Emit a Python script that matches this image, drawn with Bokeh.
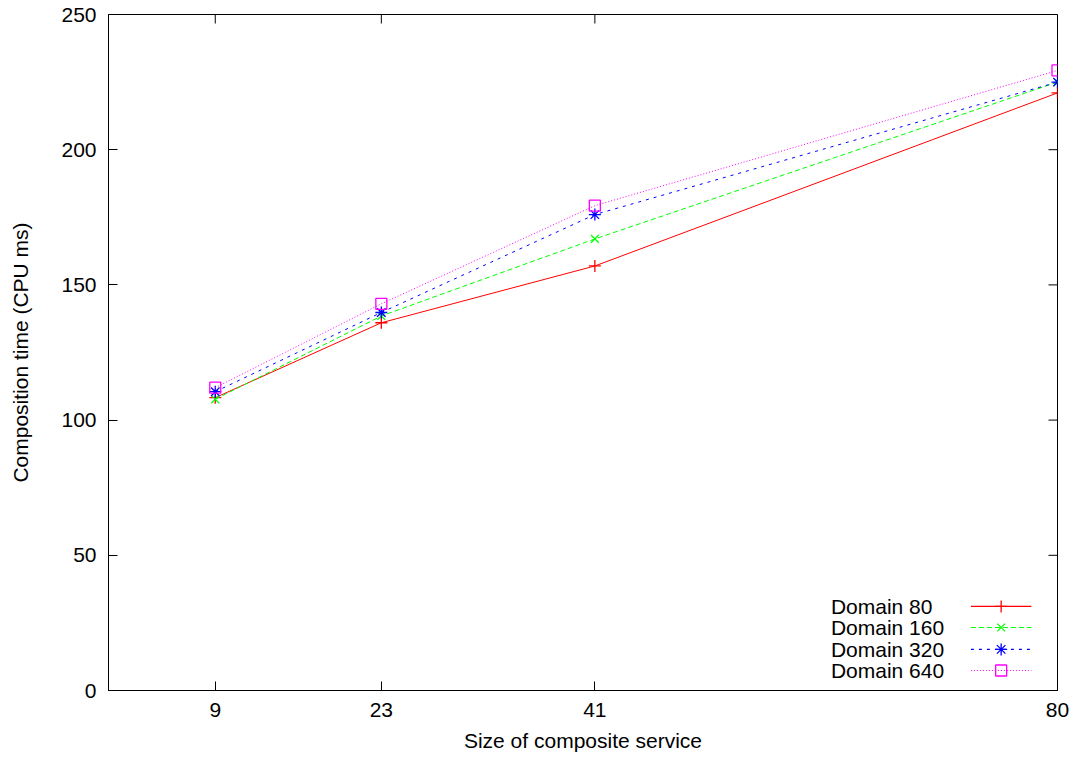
from bokeh.plotting import figure
from bokeh.models import Range1d, FixedTicker, Label
from bokeh.embed import file_html
from bokeh.resources import INLINE

# ---- data ----
sizes = [9, 23, 41, 80]
domain80 = [108.3, 136, 157, 221]
domain160 = [107.7, 138.5, 167, 225]
domain320 = [110.5, 139.8, 176, 225]
domain640 = [112, 143, 179.3, 229.3]
series_names = ["Domain 80", "Domain 160", "Domain 320", "Domain 640"]
y_ticks = [0, 50, 100, 150, 200, 250]

FONT = "Liberation Sans"
FS = "21px"

X0, X1, Y0, Y1 = 0, 80, 0, 250
W, H = 1070, 756
BL, BR, BT, BB = 108, 13, 14, 66
p = figure(width=W, height=H, output_backend="svg", toolbar_location=None,
           x_range=Range1d(X0, X1), y_range=Range1d(Y0, Y1),
           min_border_left=BL, min_border_right=BR, min_border_top=BT, min_border_bottom=BB)
p.xgrid.visible = False
p.ygrid.visible = False
p.outline_line_color = "black"
p.outline_line_width = 1
p.background_fill_color = "white"
p.border_fill_color = "white"

def style_axis(ax):
    ax.major_tick_in = 9
    ax.major_tick_out = 0
    ax.minor_tick_line_color = None
    ax.major_tick_line_color = "black"
    ax.axis_line_color = "black"
    ax.major_label_text_font = FONT
    ax.major_label_text_font_size = FS
    ax.major_label_text_color = "black"
    ax.axis_label_text_font = FONT
    ax.axis_label_text_font_size = FS
    ax.axis_label_text_font_style = "normal"
    ax.axis_label_text_color = "black"

xa = p.xaxis[0]
xa.ticker = FixedTicker(ticks=sizes)
xa.axis_label = "Size of composite service"
style_axis(xa)
xa.major_label_standoff = 12
xa.axis_label_standoff = 9

ya = p.yaxis[0]
ya.ticker = FixedTicker(ticks=y_ticks)
ya.axis_label = "Composition time (CPU ms)"
style_axis(ya)
ya.major_label_standoff = 12
ya.axis_label_standoff = 26

# mirrored inward ticks on top and right (9px long)
frame_w = W - BL - BR
frame_h = H - BT - BB
tx = 9 * (X1 - X0) / frame_w
ty = 9 * (Y1 - Y0) / frame_h
p.segment(x0=sizes, y0=[Y1] * len(sizes), x1=sizes, y1=[Y1 - ty] * len(sizes),
          line_color="black", line_width=1)
p.segment(x0=[X1] * len(y_ticks), y0=y_ticks, x1=[X1 - tx] * len(y_ticks), y1=y_ticks,
          line_color="black", line_width=1)

series = [domain80, domain160, domain320, domain640]
colors = ["#ff0000", "#00ff00", "#0000ff", "#ff00ff"]
dashes = ["solid", "5 3", "3 5", "1 2"]
markers = ["cross", "x", "asterisk", "square"]
msizes = [12, 11, 12, 11]

# legend layout (data coordinates)
leg_text_x = 60.9
leg_x0, leg_x1 = 72.7, 77.8
leg_y = [31.1, 23.3, 15.2, 7.4]

for name, ys, c, d, m, ms, ly in zip(series_names, series, colors, dashes, markers, msizes, leg_y):
    p.line(sizes, ys, line_color=c, line_width=1, line_dash=d)
    p.scatter(sizes, ys, marker=m, size=ms, line_color=c, fill_alpha=0, line_width=1.3)
    p.line([leg_x0, leg_x1], [ly, ly], line_color=c, line_width=1.2, line_dash=d)
    p.scatter([(leg_x0 + leg_x1) / 2], [ly], marker=m, size=ms, line_color=c, fill_alpha=0, line_width=1.3)
    p.add_layout(Label(x=leg_text_x, y=ly, text=name, text_font=FONT, text_font_size=FS,
                       text_baseline="middle", text_align="left", text_color="black"))

open("out.html", "w").write(file_html(p, INLINE))
